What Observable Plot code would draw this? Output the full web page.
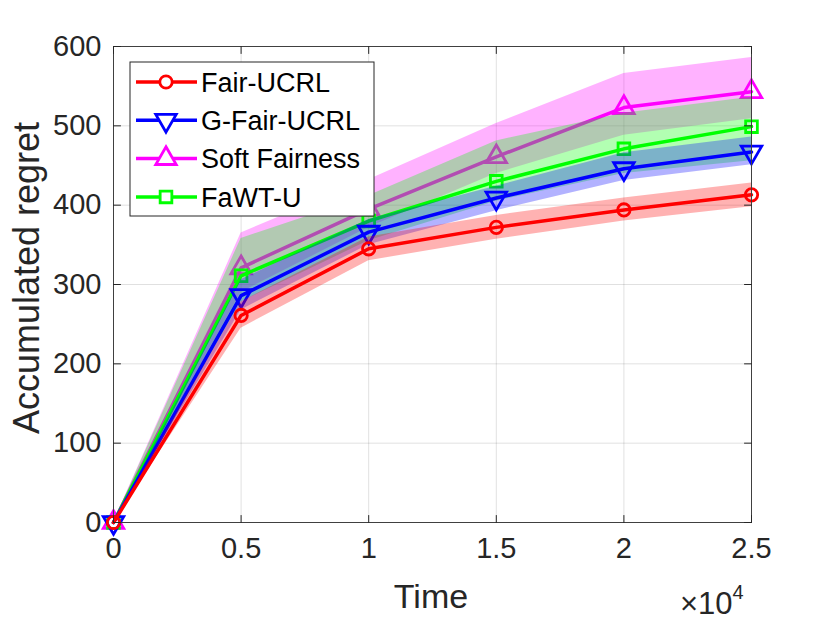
<!DOCTYPE html>
<html><head><meta charset="utf-8">
<script src="https://cdn.jsdelivr.net/npm/d3@7"></script>
<script src="https://cdn.jsdelivr.net/npm/@observablehq/plot@0.6"></script>
<style>body{margin:0;background:#fff}#chart{width:830px;height:623px}</style>
</head><body><div id="chart"></div>
<script>
// ---- data ----
const times = [0, 5000, 10000, 15000, 20000, 25000];
const seriesNames = ["Fair-UCRL", "G-Fair-UCRL", "Soft Fairness", "FaWT-U"];
const fairMean = [0, 261, 345, 372, 394, 413];
const fairLow  = [0, 245, 330, 357, 380, 398];
const fairHigh = [0, 278, 360, 387, 409, 428];
const gfairMean = [0, 286, 366, 409, 446, 467];
const gfairLow  = [0, 268, 350, 393, 431, 451];
const gfairHigh = [0, 306, 382, 424, 466, 486];
const softMean = [0, 321, 395, 461, 523, 543];
const softLow  = [0, 290, 372, 440, 488, 509];
const softHigh = [0, 365, 432, 503, 566, 586];
const fawtMean = [0, 311, 380, 430, 471, 499];
const fawtLow  = [0, 278, 355, 405, 440, 456];
const fawtHigh = [0, 358, 412, 481, 516, 536];
const xTicks = [0, 5000, 10000, 15000, 20000, 25000];
const yTicks = [0, 100, 200, 300, 400, 500, 600];
const colors = ["#ff0000", "#0000ff", "#ff00ff", "#00ff00"];

const means = [fairMean, gfairMean, softMean, fawtMean];
const lows = [fairLow, gfairLow, softLow, fawtLow];
const highs = [fairHigh, gfairHigh, softHigh, fawtHigh];

const triangleDown = {
  draw(context, size) {
    const y = -Math.sqrt(size / (Math.sqrt(3) * 3));
    context.moveTo(0, -y * 2);
    context.lineTo(-Math.sqrt(3) * y, y);
    context.lineTo(Math.sqrt(3) * y, y);
    context.closePath();
  }
};
const tickShape = {draw(context, l) { context.moveTo(0, 0); context.lineTo(0, -l); }};
const symbols = ["circle", triangleDown, "triangle", "square"];
const radii = [6.2, 7.6, 7.6, 6.6];
const drawOrder = [2, 3, 1, 0];

const rows = [];
seriesNames.forEach((name, s) => times.forEach((t, i) =>
  rows.push({name, s, t, mean: means[s][i], lo: lows[s][i], hi: highs[s][i]})));
const bySeries = seriesNames.map((_, s) => rows.filter(r => r.s === s));

const FONT = "'Liberation Sans', Arial, Helvetica, sans-serif";
const AX = "#262626";
const marks = [
  Plot.ruleX(xTicks, {stroke: "#000", strokeOpacity: 0.12}),
  Plot.ruleY(yTicks, {stroke: "#000", strokeOpacity: 0.12})
];
drawOrder.forEach(s => {
  const d = bySeries[s];
  marks.push(Plot.line(d, {x: "t", y: "mean", stroke: colors[s], strokeWidth: 3.5}));
  marks.push(Plot.dot(d, {x: "t", y: "mean", stroke: colors[s], strokeWidth: 2.8, fill: "none", symbol: symbols[s], r: radii[s]}));
  marks.push(Plot.areaY(d, {x: "t", y1: "lo", y2: "hi", fill: colors[s], fillOpacity: 0.3}));
});
const tickOpts = {length: 7, anchor: "start", shape: tickShape, stroke: AX, strokeWidth: 1};
marks.push(
  Plot.frame({stroke: "#404040", strokeWidth: 1}),
  Plot.vector(xTicks, {...tickOpts, x: d => d, frameAnchor: "bottom", rotate: 0}),
  Plot.vector(xTicks, {...tickOpts, x: d => d, frameAnchor: "top", rotate: 180}),
  Plot.vector(yTicks, {...tickOpts, y: d => d, frameAnchor: "left", rotate: 90}),
  Plot.vector(yTicks, {...tickOpts, y: d => d, frameAnchor: "right", rotate: -90}),
  Plot.axisX(xTicks, {anchor: "bottom", tickSize: 0, tickPadding: 15, tickFormat: d => d / 1e4, fontSize: 29, label: null, color: AX}),
  Plot.axisY(yTicks, {anchor: "left", tickSize: 0, tickPadding: 12, fontSize: 29, label: null, color: AX})
);

const chart = Plot.plot({
  width: 830, height: 623,
  marginLeft: 113, marginRight: 79, marginTop: 46, marginBottom: 101,
  x: {domain: [0, 25000]},
  y: {domain: [0, 600]},
  style: {fontFamily: FONT, color: AX, background: "white", overflow: "visible"},
  marks
});
document.getElementById("chart").appendChild(chart);

// ---- labels, exponent and legend ----
const svg = d3.select(chart);
svg.append("text").attr("x", 431).attr("y", 608).attr("text-anchor", "middle")
  .attr("font-size", 34).attr("fill", AX).attr("font-family", FONT).text("Time");
svg.append("text").attr("transform", "translate(39,278) rotate(-90)").attr("text-anchor", "middle")
  .attr("font-size", 36).attr("fill", AX).attr("font-family", FONT).text("Accumulated regret");
const expo = svg.append("text").attr("x", 680).attr("y", 614).attr("font-size", 31)
  .attr("text-anchor", "start").attr("fill", AX).attr("font-family", FONT);
expo.append("tspan").text("\u00d710");
expo.append("tspan").attr("dy", -15).attr("font-size", 20).text("4");

const lg = svg.append("g");
lg.append("rect").attr("x", 130).attr("y", 62).attr("width", 244).attr("height", 154)
  .attr("fill", "white").attr("stroke", AX).attr("stroke-width", 1);
seriesNames.forEach((name, s) => {
  const cy = 82 + s * 38.3;
  lg.append("line").attr("x1", 136).attr("x2", 197).attr("y1", cy).attr("y2", cy)
    .attr("stroke", colors[s]).attr("stroke-width", 3.5);
  const symType = typeof symbols[s] === "string"
    ? {circle: d3.symbolCircle, triangle: d3.symbolTriangle, square: d3.symbolSquare}[symbols[s]]
    : symbols[s];
  lg.append("path").attr("d", d3.symbol(symType, Math.PI * radii[s] * radii[s])())
    .attr("transform", `translate(166,${cy})`).attr("fill", "white")
    .attr("stroke", colors[s]).attr("stroke-width", 2.8);
  lg.append("text").attr("x", 201).attr("y", cy).attr("dy", "0.36em").attr("text-anchor", "start")
    .attr("font-size", 27).attr("fill", "#000").attr("font-family", FONT).text(name);
});
</script>
</body></html>
